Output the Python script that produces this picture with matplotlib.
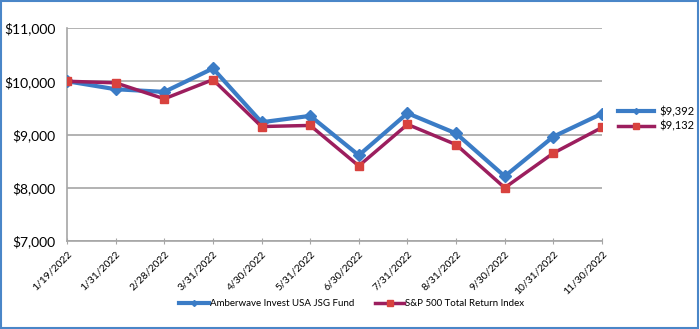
import matplotlib.pyplot as plt
from matplotlib.lines import Line2D
from matplotlib.patches import Rectangle

# ----------------------------
# DATA
# ----------------------------
dates = ["1/19/2022", "1/31/2022", "2/28/2022", "3/31/2022", "4/30/2022", "5/31/2022",
         "6/30/2022", "7/31/2022", "8/31/2022", "9/30/2022", "10/31/2022", "11/30/2022"]
fund = [10000, 9850, 9800, 10240, 9230, 9350, 8610, 9400, 9020, 8215, 8960, 9392]
sp500 = [10000, 9970, 9670, 10030, 9150, 9170, 8410, 9190, 8810, 8000, 8650, 9132]
fund_name = "Amberwave Invest USA JSG Fund"
sp_name = "S&P 500 Total Return Index"
yticks = [7000, 8000, 9000, 10000, 11000]

blue = "#3B7CC6"
purple = "#9C1E5E"
red = "#D8423E"
grid = "#A6A6A6"

plt.rcParams['font.family'] = ['Lato', 'DejaVu Sans']

fig = plt.figure(figsize=(7, 3.29), dpi=100)
fig.patches.append(Rectangle((0.002, 0.003), 0.995, 0.993, transform=fig.transFigure,
                             fill=False, edgecolor="#4A86C8", linewidth=1.5))

ax = fig.add_axes([67 / 700, 88 / 329, 535 / 700, 213 / 329])
x = list(range(len(dates)))

ax.plot(x, fund, color=blue, linewidth=3, marker="D", markersize=6,
        markerfacecolor=blue, markeredgecolor=blue, zorder=3)
ax.plot(x, sp500, color=purple, linewidth=2.5, marker="s", markersize=6,
        markerfacecolor=red, markeredgecolor=red, zorder=4)

ax.set_xlim(0, len(dates) - 1)
ax.set_ylim(7000, 11000)
ax.set_yticks(yticks)
ax.set_yticklabels([f"${v:,}" for v in yticks], fontsize=10)
ax.set_xticks(x)
ax.set_xticklabels(dates, rotation=45, ha="right", rotation_mode="anchor", fontsize=7.5)
ax.tick_params(axis="y", length=0, pad=8.5)
ax.tick_params(axis="x", length=4, color=grid, direction="inout", pad=4)
ax.yaxis.grid(True, color=grid, linewidth=1.2)
ax.set_axisbelow(True)
for s in ["top", "right"]:
    ax.spines[s].set_visible(False)
for s in ["left", "bottom"]:
    ax.spines[s].set_color(grid)
    ax.spines[s].set_linewidth(1.2)

# right-hand ending value labels
h1 = Line2D([], [], color=blue, linewidth=3, marker="D", markersize=3)
h2 = Line2D([], [], color=purple, linewidth=2.5, marker="s", markersize=4,
            markerfacecolor=red, markeredgecolor=red)
fig.legend([h1, h2], [f"${fund[-1]:,}", f"${sp500[-1]:,}"], loc="center left",
           bbox_to_anchor=(608 / 700, 1 - 119 / 329), frameon=False, fontsize=8,
           handlelength=3.2, handletextpad=0.5, labelspacing=0.3)

# bottom legend
h3 = Line2D([], [], color=blue, linewidth=3, marker="D", markersize=3)
h4 = Line2D([], [], color=purple, linewidth=2.5, marker="s", markersize=4,
            markerfacecolor=red, markeredgecolor=red)
fig.legend([h3, h4], [fund_name, sp_name], loc="center",
           bbox_to_anchor=(352 / 700, 1 - 304 / 329), ncol=2, frameon=False,
           fontsize=7, handlelength=3.0, handletextpad=0.1, columnspacing=2.2)

fig.savefig("out.png", dpi=100)
